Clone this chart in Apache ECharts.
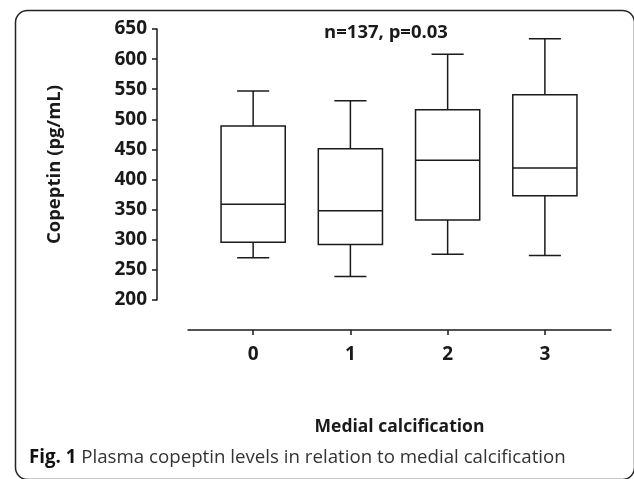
<!DOCTYPE html>
<html>
<head>
<meta charset="utf-8">
<script src="https://cdn.jsdelivr.net/npm/echarts@6/dist/echarts.min.js"></script>
<style>html,body{margin:0;padding:0;background:#fff}#c{width:634px;height:479px}</style>
</head>
<body>
<div id="c"></div>
<script>
const categories = [0, 1, 2, 3];
const whiskerLow = [270, 239, 276, 274];
const q1 = [296, 292, 333, 373];
const median = [359, 348, 432, 419];
const q3 = [489, 451, 516, 541];
const whiskerHigh = [547, 531, 608, 634];
const yTicks = [200, 250, 300, 350, 400, 450, 500, 550, 600, 650];
const annotation = 'n=137, p=0.03';
const yTitle = 'Copeptin (pg/mL)';
const xTitle = 'Medial calcification';
const captionBold = 'Fig. 1';
const captionText = ' Plasma copeptin levels in relation to medial calcification';

const FONT = '"Open Sans", "DejaVu Sans", sans-serif';
const INK = '#1a1a1a';
const data = categories.map((c, i) => [c, whiskerLow[i], q1[i], median[i], q3[i], whiskerHigh[i]]);

const chart = echarts.init(document.getElementById('c'), null, {renderer: 'canvas'});
chart.setOption({
  animation: false,
  backgroundColor: '#fff',
  grid: {left: 188, right: 23, top: 29, bottom: 179, containLabel: false},
  xAxis: {
    type: 'value', min: -0.67, max: 3.68,
    offset: 30,
    splitLine: {show: false},
    axisLine: {show: true, onZero: false, lineStyle: {color: INK, width: 1.5}},
    axisTick: {show: true, length: 5, customValues: categories, lineStyle: {color: INK, width: 1.5}},
    axisLabel: {customValues: categories, margin: 15, color: INK, fontFamily: FONT, fontWeight: 'bold', fontSize: 19},
    name: xTitle, nameLocation: 'middle', nameGap: 88,
    nameTextStyle: {color: INK, fontFamily: FONT, fontWeight: 'bold', fontSize: 17.5}
  },
  yAxis: {
    type: 'value', min: yTicks[0], max: yTicks[yTicks.length - 1], interval: 50,
    offset: 31,
    splitLine: {show: false},
    axisLine: {show: true, onZero: false, lineStyle: {color: INK, width: 1.5}},
    axisTick: {show: true, length: 5, lineStyle: {color: INK, width: 1.5}},
    axisLabel: {margin: 10, color: INK, fontFamily: FONT, fontWeight: 'bold', fontSize: 19},
    name: yTitle, nameLocation: 'middle', nameGap: 93,
    nameTextStyle: {color: INK, fontFamily: FONT, fontWeight: 'bold', fontSize: 18.5}
  },
  series: [{
    type: 'custom',
    data: data,
    renderItem: function (params, api) {
      const x = api.value(0);
      const pLo = api.coord([x, api.value(1)]);
      const pQ1 = api.coord([x, api.value(2)]);
      const pMed = api.coord([x, api.value(3)]);
      const pQ3 = api.coord([x, api.value(4)]);
      const pHi = api.coord([x, api.value(5)]);
      const bw = api.size([0.66, 0])[0];
      const cx = pMed[0];
      const hb = bw / 2, hc = bw / 4;
      const st = {stroke: INK, lineWidth: 1.5, fill: null};
      return {
        type: 'group',
        children: [
          {type: 'rect', shape: {x: cx - hb, y: pQ3[1], width: bw, height: pQ1[1] - pQ3[1]}, style: {stroke: INK, lineWidth: 1.5, fill: '#fff'}},
          {type: 'line', shape: {x1: cx - hb, y1: pMed[1], x2: cx + hb, y2: pMed[1]}, style: st},
          {type: 'line', shape: {x1: cx, y1: pQ3[1], x2: cx, y2: pHi[1]}, style: st},
          {type: 'line', shape: {x1: cx, y1: pQ1[1], x2: cx, y2: pLo[1]}, style: st},
          {type: 'line', shape: {x1: cx - hc, y1: pHi[1], x2: cx + hc, y2: pHi[1]}, style: st},
          {type: 'line', shape: {x1: cx - hc, y1: pLo[1], x2: cx + hc, y2: pLo[1]}, style: st}
        ]
      };
    }
  }],
  graphic: [
    {type: 'rect', left: 13, top: 8, shape: {width: 619, height: 469, r: 12}, style: {fill: null, stroke: '#222', lineWidth: 1.5}, z: -1},
    {type: 'text', x: 386, y: 33, style: {text: annotation, align: 'center', verticalAlign: 'middle', fill: INK, font: 'bold 18.5px ' + FONT}},
    {type: 'text', x: 29, y: 458, style: {
      text: '{b|' + captionBold + '}{n|' + captionText + '}', verticalAlign: 'middle',
      rich: {
        b: {fontFamily: FONT, fontWeight: 'bold', fontSize: 18.7, fill: '#111'},
        n: {fontFamily: FONT, fontWeight: 'normal', fontSize: 18.7, fill: '#333'}
      }
    }}
  ]
});
</script>
</body>
</html>
